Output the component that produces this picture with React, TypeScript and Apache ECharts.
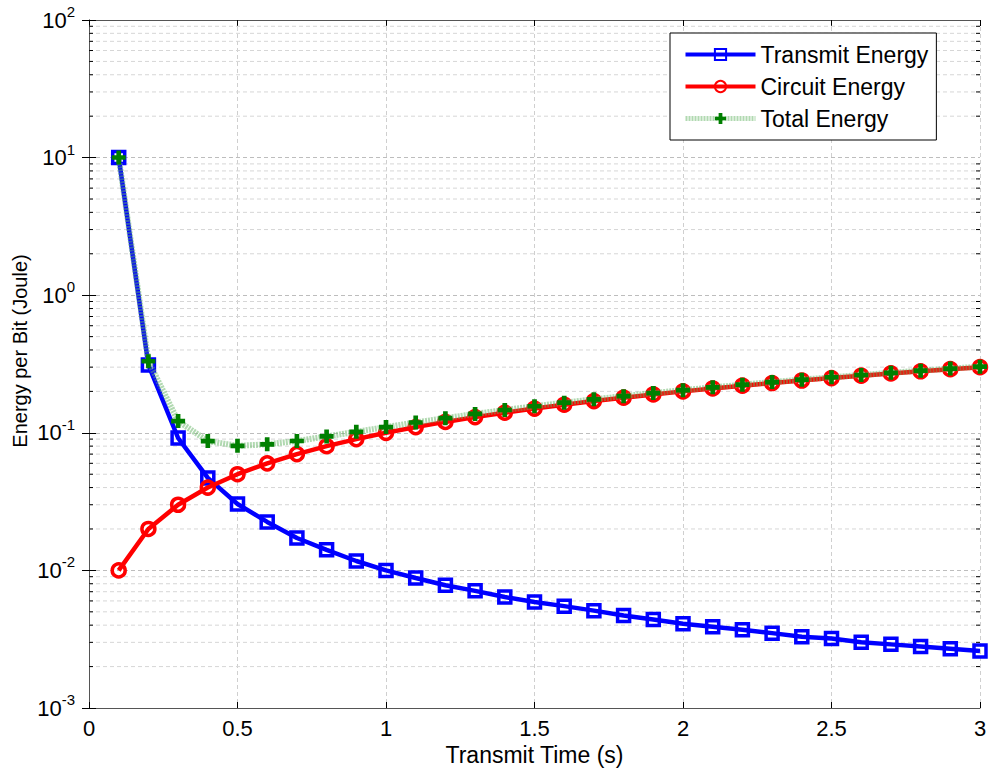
import React, { useEffect, useRef } from 'react';
import * as echarts from 'echarts';

const times = [0.1, 0.2, 0.3, 0.4, 0.5, 0.6, 0.7, 0.8, 0.9, 1.0, 1.1, 1.2, 1.3, 1.4, 1.5, 1.6, 1.7, 1.8, 1.9, 2.0, 2.1, 2.2, 2.3, 2.4, 2.5, 2.6, 2.7, 2.8, 2.9, 3.0];
const transmitEnergy = [10, 0.311, 0.0917, 0.047, 0.0304, 0.0225, 0.0172, 0.0141, 0.0117, 0.01, 0.0088, 0.0078, 0.0071, 0.0064, 0.0059, 0.0055, 0.0051, 0.0047, 0.0044, 0.0041, 0.0039, 0.0037, 0.0035, 0.0033, 0.0032, 0.003, 0.0029, 0.0028, 0.0027, 0.0026];
const circuitEnergy = [0.01, 0.02, 0.03, 0.04, 0.05, 0.06, 0.07, 0.08, 0.09, 0.1, 0.11, 0.12, 0.13, 0.14, 0.15, 0.16, 0.17, 0.18, 0.19, 0.2, 0.21, 0.22, 0.23, 0.24, 0.25, 0.26, 0.27, 0.28, 0.29, 0.3];
const totalEnergy = [10.01, 0.331, 0.1217, 0.087, 0.0804, 0.0825, 0.0872, 0.0941, 0.1017, 0.11, 0.1188, 0.1278, 0.1371, 0.1464, 0.1559, 0.1655, 0.1751, 0.1847, 0.1944, 0.2041, 0.2139, 0.2237, 0.2335, 0.2433, 0.2532, 0.263, 0.2729, 0.2828, 0.2927, 0.3026];
const minorGridValues = [
  0.002, 0.003, 0.004, 0.005, 0.006, 0.007, 0.008, 0.009,
  0.02, 0.03, 0.04, 0.05, 0.06, 0.07, 0.08, 0.09,
  0.2, 0.3, 0.4, 0.5, 0.6, 0.7, 0.8, 0.9,
  2, 3, 4, 5, 6, 7, 8, 9,
  20, 30, 40, 50, 60, 70, 80, 90,
];
const seriesNames = ['Transmit Energy', 'Circuit Energy', 'Total Energy'];
const yAxisTitle = 'Energy per Bit (Joule)';
const xAxisTitle = 'Transmit Time (s)';

const FONT = 'Arial, "Liberation Sans", sans-serif';
const AXIS_COLOR = '#555555';
const X_MIN = 0;
const X_MAX = 3;

export default function App() {
  const ref = useRef<HTMLDivElement>(null);
  useEffect(() => {
    document.body.style.margin = '0';
    const chart = echarts.init(ref.current!, null, { renderer: 'svg' });
    const pair = (arr: number[]) => times.map((t, i) => [t, arr[i]]);
    const plusPath = 'path://M4,0h4v4h4v4h-4v4h-4v-4h-4v-4h4z';
    chart.setOption({
      animation: false,
      backgroundColor: '#ffffff',
      textStyle: { fontFamily: FONT },
      grid: { left: 89, right: 10, top: 20, bottom: 63, containLabel: false, outerBoundsMode: 'none' },
      graphic: [
        {
          type: 'text',
          x: 20,
          y: 351,
          rotation: Math.PI / 2,
          style: { text: yAxisTitle, fontSize: 20, fill: '#000', fontFamily: FONT, align: 'center', verticalAlign: 'middle' },
        },
      ],
      legend: {
        data: [
          { name: seriesNames[0], lineStyle: { width: 4, color: '#0000ff' } },
          { name: seriesNames[1], lineStyle: { width: 4, color: '#ff0000' } },
          { name: seriesNames[2], lineStyle: { width: 5, color: 'rgba(100,180,100,0.5)' } },
        ],
        orient: 'vertical',
        left: 670,
        top: 33,
        itemWidth: 70,
        itemHeight: 14,
        itemGap: 9,
        padding: [10, 8, 10, 13],
        borderColor: '#000',
        borderWidth: 1,
        backgroundColor: '#fff',
        textStyle: { fontSize: 23, color: '#000', fontFamily: FONT },
      },
      xAxis: [
        {
          type: 'value',
          min: X_MIN,
          max: X_MAX,
          interval: 0.5,
          name: xAxisTitle,
          nameLocation: 'middle',
          nameGap: 32,
          nameTextStyle: { fontSize: 23, color: '#000', fontFamily: FONT },
          axisLine: { lineStyle: { color: AXIS_COLOR, width: 1 } },
          axisTick: { inside: true, length: 6, lineStyle: { color: '#000' } },
          axisLabel: { fontSize: 22, color: '#000', margin: 9, fontFamily: FONT },
          splitLine: { show: true, lineStyle: { color: '#cfcfcf', type: [4, 3], width: 1 } },
        },
        {
          type: 'value',
          position: 'top',
          min: X_MIN,
          max: X_MAX,
          interval: 0.5,
          axisLine: { show: true, lineStyle: { color: AXIS_COLOR, width: 1 } },
          axisTick: { inside: true, length: 6, lineStyle: { color: '#000' } },
          axisLabel: { show: false },
          splitLine: { show: false },
        },
      ],
      yAxis: [
        {
          type: 'log',
          logBase: 10,
          min: 0.001,
          max: 100,
          axisLine: { show: true, lineStyle: { color: AXIS_COLOR, width: 1 } },
          axisTick: { inside: true, length: 7, lineStyle: { color: '#000' } },
          axisLabel: {
            fontSize: 22,
            color: '#000',
            margin: 14,
            fontFamily: FONT,
            formatter: (v: number) => `10{sup|${Math.round(Math.log10(v))}}`,
            rich: {
              sup: { fontSize: 15, color: '#000', fontFamily: FONT, padding: [0, 0, 17, 0] },
            },
          },
          splitLine: { show: true, lineStyle: { color: '#bdbdbd', type: [4, 3], width: 1 } },
        },
        {
          type: 'log',
          logBase: 10,
          min: 0.001,
          max: 100,
          position: 'right',
          axisLine: { show: true, lineStyle: { color: AXIS_COLOR, width: 1 } },
          axisTick: { inside: true, length: 7, lineStyle: { color: '#000' } },
          axisLabel: { show: false },
          splitLine: { show: false },
        },
      ],
      series: [
        {
          type: 'custom',
          name: 'minor',
          xAxisIndex: 0,
          yAxisIndex: 0,
          silent: true,
          z: 1,
          data: minorGridValues.map((v) => [X_MIN, v]),
          encode: { x: 0, y: 1 },
          renderItem: (params: any, api: any) => {
            const v = api.value(1);
            const p0 = api.coord([X_MIN, v]);
            const p1 = api.coord([X_MAX, v]);
            return {
              type: 'group',
              children: [
                { type: 'line', shape: { x1: p0[0], y1: p0[1], x2: p1[0], y2: p1[1] }, style: { stroke: '#d6d6d6', lineWidth: 1, lineDash: [4, 3] } },
                { type: 'line', shape: { x1: p0[0], y1: p0[1], x2: p0[0] + 4, y2: p0[1] }, style: { stroke: '#000', lineWidth: 1 } },
                { type: 'line', shape: { x1: p1[0] - 4, y1: p1[1], x2: p1[0], y2: p1[1] }, style: { stroke: '#000', lineWidth: 1 } },
              ],
            };
          },
        },
        {
          name: seriesNames[0],
          type: 'line',
          data: pair(transmitEnergy),
          z: 3,
          symbol: 'rect',
          symbolSize: 12,
          showAllSymbol: true,
          lineStyle: { color: '#0000ff', width: 4.5 },
          itemStyle: { color: 'rgba(0,0,0,0)', borderColor: '#0000ff', borderWidth: 3.5 },
        },
        {
          name: seriesNames[1],
          type: 'line',
          data: pair(circuitEnergy),
          z: 4,
          symbol: 'circle',
          symbolSize: 13,
          showAllSymbol: true,
          lineStyle: { color: '#ff0000', width: 4.5 },
          itemStyle: { color: 'rgba(0,0,0,0)', borderColor: '#ff0000', borderWidth: 3.5 },
        },
        {
          name: seriesNames[2],
          type: 'line',
          data: pair(totalEnergy),
          z: 5,
          symbol: plusPath,
          symbolSize: 14,
          showAllSymbol: true,
          lineStyle: { color: 'rgba(100,180,100,0.5)', width: 6, type: [2, 1] },
          itemStyle: { color: '#007f00', borderWidth: 0 },
        },
      ],
    });
    return () => chart.dispose();
  }, []);
  return <div ref={ref} style={{ width: 990, height: 771 }} />;
}
